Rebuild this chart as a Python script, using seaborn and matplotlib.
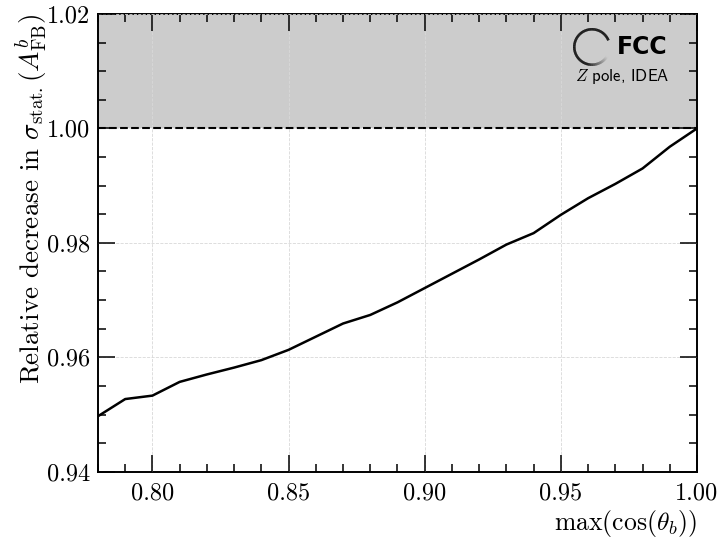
import numpy as np
import matplotlib
matplotlib.use("Agg")
import matplotlib.pyplot as plt
from matplotlib.patches import Wedge
from matplotlib.ticker import MultipleLocator, FormatStrFormatter
import seaborn as sns

cos_max = [0.78, 0.79, 0.80, 0.81, 0.82, 0.83, 0.84, 0.85, 0.86, 0.87, 0.88, 0.89,
           0.90, 0.91, 0.92, 0.93, 0.94, 0.95, 0.96, 0.97, 0.98, 0.99, 1.00]
rel_decrease = [0.9497, 0.9527, 0.9533, 0.9557, 0.9570, 0.9582, 0.9595, 0.9613,
                0.9636, 0.9659, 0.9674, 0.9696, 0.9721, 0.9746, 0.9771, 0.9797,
                0.9817, 0.9849, 0.9878, 0.9903, 0.9930, 0.9968, 1.0000]

sns.set_style("ticks")
plt.rcParams["font.family"] = ["cmr10", "DejaVu Sans"]
plt.rcParams["mathtext.fontset"] = "cm"
plt.rcParams["axes.formatter.use_mathtext"] = True
plt.rcParams["text.color"] = "k"
plt.rcParams["axes.labelcolor"] = "k"

fig = plt.figure(figsize=(7.21, 5.38), dpi=100)
ax = fig.add_axes([0.1359, 0.1232, 0.8308, 0.8508])

ax.axhspan(1.0, 1.02, color="#cccccc", zorder=0, lw=0)
ax.axhline(1.0, color="k", ls="--", lw=1.5, zorder=3)
sns.lineplot(x=cos_max, y=rel_decrease, color="k", lw=1.8, ax=ax, zorder=4)

ax.set_xlim(0.78, 1.0)
ax.set_ylim(0.94, 1.02)
ax.xaxis.set_major_locator(MultipleLocator(0.05))
ax.xaxis.set_minor_locator(MultipleLocator(0.01))
ax.yaxis.set_major_locator(MultipleLocator(0.02))
ax.yaxis.set_minor_locator(MultipleLocator(0.005))
ax.xaxis.set_major_formatter(FormatStrFormatter("%.2f"))
ax.yaxis.set_major_formatter(FormatStrFormatter("%.2f"))
ax.tick_params(which="both", direction="in", top=True, right=True, labelsize=17.5,
               colors="k", width=1.1)
ax.tick_params(which="major", length=12)
ax.tick_params(which="minor", length=5.5)
ax.tick_params(axis="x", which="major", pad=7.5)
ax.tick_params(axis="y", which="major", pad=5.5)
for s in ax.spines.values():
    s.set_linewidth(1.4)
    s.set_color("k")
ax.grid(True, which="major", ls="--", color="#d8d8d8", lw=0.6, zorder=1)
ax.set_axisbelow(False)

ax.set_xlabel(r"$\max(\cos(\theta_b))$", fontsize=18.5, loc="right", labelpad=3)
ax.set_ylabel(r"Relative decrease in $\sigma_{\rm stat.}(A^b_{\rm FB})$", fontsize=19.5,
              loc="top", labelpad=-2)

# FCC logo
lax = fig.add_axes([572 / 721, 1 - 67 / 538, 40 / 721, 40 / 538])
lax.set_xlim(-1, 1)
lax.set_ylim(-1, 1)
lax.set_aspect("equal")
lax.axis("off")
angles = np.linspace(22, 328, 150)
for a0, a1 in zip(angles[:-1], angles[1:]):
    if a0 < 255:
        c = 0.0
    else:
        c = min(0.82, (a0 - 255) / 73 * 0.82)
    lax.add_patch(Wedge((0, 0), 0.95, a0, a1 + 0.3, width=0.13, facecolor=str(c),
                        edgecolor="none"))

fig.text(617 / 721, 1 - 47 / 538, "FCC", fontsize=17, fontweight="bold",
         family="DejaVu Sans", va="center", ha="left", color="k")
fig.text(575 / 721, 1 - 76 / 538, r"$Z$ pole, IDEA", fontsize=12, family="cmss10",
         va="center", ha="left")

fig.savefig("out.png", dpi=100)
